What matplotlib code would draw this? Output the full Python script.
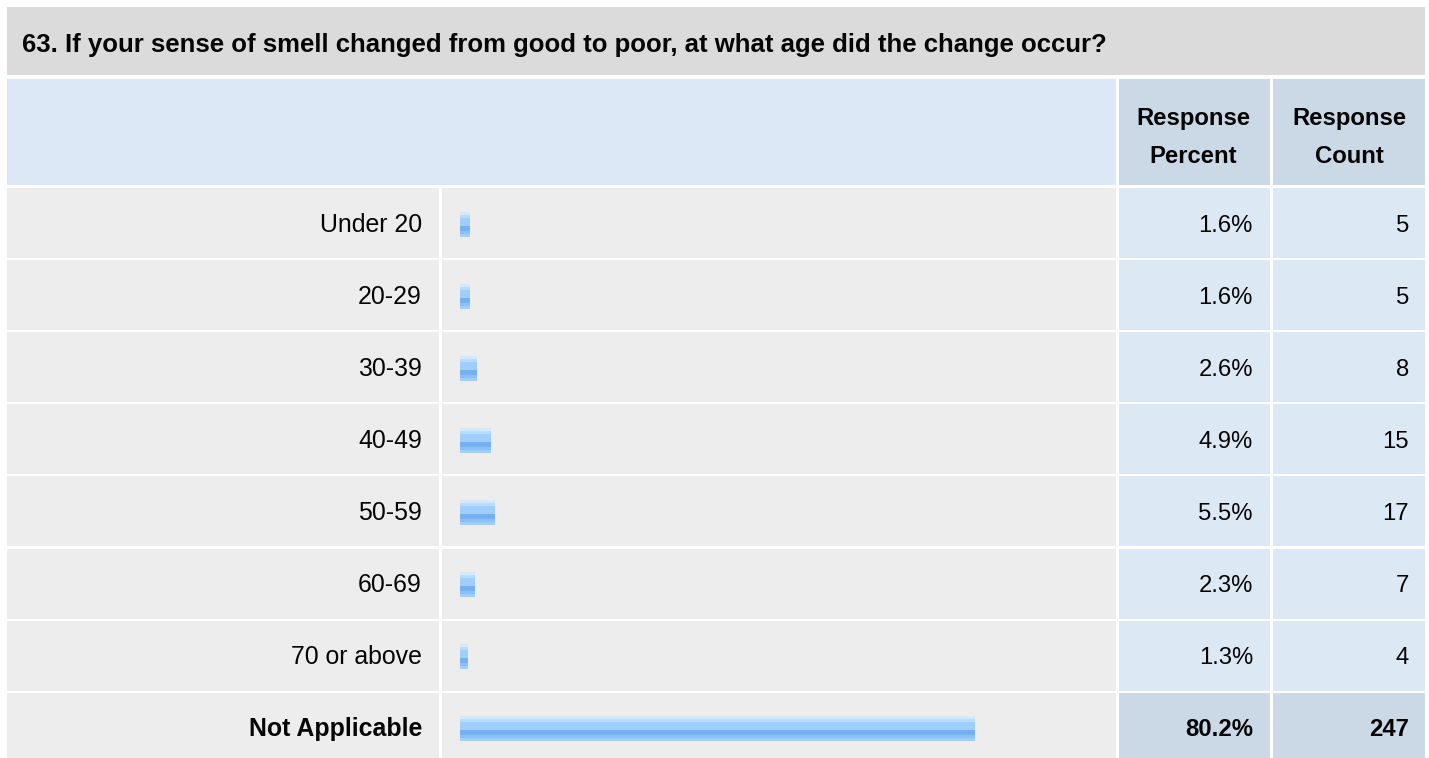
import matplotlib
matplotlib.use('Agg')
import matplotlib.pyplot as plt
from matplotlib.patches import Rectangle

plt.rcParams['font.family'] = ['Liberation Sans', 'DejaVu Sans']

# Data:
title = "63. If your sense of smell changed from good to poor, at what age did the change occur?"
categories = ["Under 20", "20-29", "30-39", "40-49", "50-59", "60-69", "70 or above", "Not Applicable"]
percents   = [1.6, 1.6, 2.6, 4.9, 5.5, 2.3, 1.3, 80.2]
counts     = [5, 5, 8, 15, 17, 7, 4, 247]
headers    = [["Response", "Percent"], ["Response", "Count"]]

# Colours:
cTitle  = '#dbdbdb'
cHead   = '#dce8f5'
cHeadR  = '#cbd8e6'
cGray   = '#ededed'
cBlue   = '#dde8f5'
cText   = '#050505'
stripes = [(0.00, 0.12, '#d4e9fc'), (0.12, 0.24, '#badcfc'), (0.24, 0.56, '#9ecefd'),
           (0.56, 0.76, '#76b0f0'), (0.76, 0.88, '#8cc1f6'), (0.88, 1.00, '#9ecefd')]

W, H = 1429, 758
fig = plt.figure(figsize=(W/100, H/100), dpi=100)
ax = fig.add_axes([0, 0, 1, 1])
ax.set_xlim(0, W)
ax.set_ylim(H, 0)
ax.axis('off')

def box(x0, y0, x1, y1, c):
    ax.add_patch(Rectangle((x0, y0), x1-x0, y1-y0, facecolor=c, edgecolor='none'))

fs  = 17.2   # Font size of numbers and headers
fsL = 17.9   # Font size of row labels

# Title bar:
box(7, 7, 1425, 75, cTitle)
ax.text(22, 52, title, fontsize=18.5, fontweight='bold', va='baseline', ha='left', color=cText)

# Header row:
box(7, 79, 1116, 185, cHead)
box(1119, 79, 1270, 185, cHeadR)
box(1273, 79, 1425, 185, cHeadR)
for xc, lines in zip([1193, 1349], headers):
    ax.text(xc, 125, lines[0], fontsize=fs, fontweight='bold', ha='center', va='baseline', color=cText)
    ax.text(xc, 163, lines[1], fontsize=fs, fontweight='bold', ha='center', va='baseline', color=cText)

# Rows:
rowTop = 188
rowStep = 72.1
rowH = 70
centers = []
n = len(categories)
for i in range(n):
    y0 = rowTop + i*rowStep
    last = (i == n-1)
    y1 = H if last else y0 + rowH
    centers.append(y0 + 36)
    yb = y0 + 43.5
    box(7, y0, 439, y1, cGray)
    box(442, y0, 1116, y1, cGray)
    box(1119, y0, 1270, y1, cHeadR if last else cBlue)
    box(1273, y0, 1425, y1, cHeadR if last else cBlue)
    wt = 'bold' if last else 'normal'
    ax.text(422, yb, categories[i], fontsize=fsL, fontweight=wt, ha='right', va='baseline', color=cText)
    ax.text(1253, yb, "%.1f%%" % percents[i], fontsize=fs, fontweight=wt, ha='right', va='baseline', color=cText)
    ax.text(1409, yb, str(counts[i]), fontsize=fs, fontweight=wt, ha='right', va='baseline', color=cText)

# Bars (percent scale, 0..100 mapped over 460..1102 px):
bx = fig.add_axes([460/W, 0, 642/W, 1])
bx.set_xlim(0, 100)
bx.set_ylim(H, 0)
bx.axis('off')
barH = 25
for f0, f1, c in stripes:
    ys = [yc - barH/2 + barH*(f0 + f1)/2 for yc in centers]
    bx.barh(ys, percents, height=barH*(f1-f0), left=0, color=c, edgecolor='none')

fig.savefig('out.png', dpi=100)
plt.close()
